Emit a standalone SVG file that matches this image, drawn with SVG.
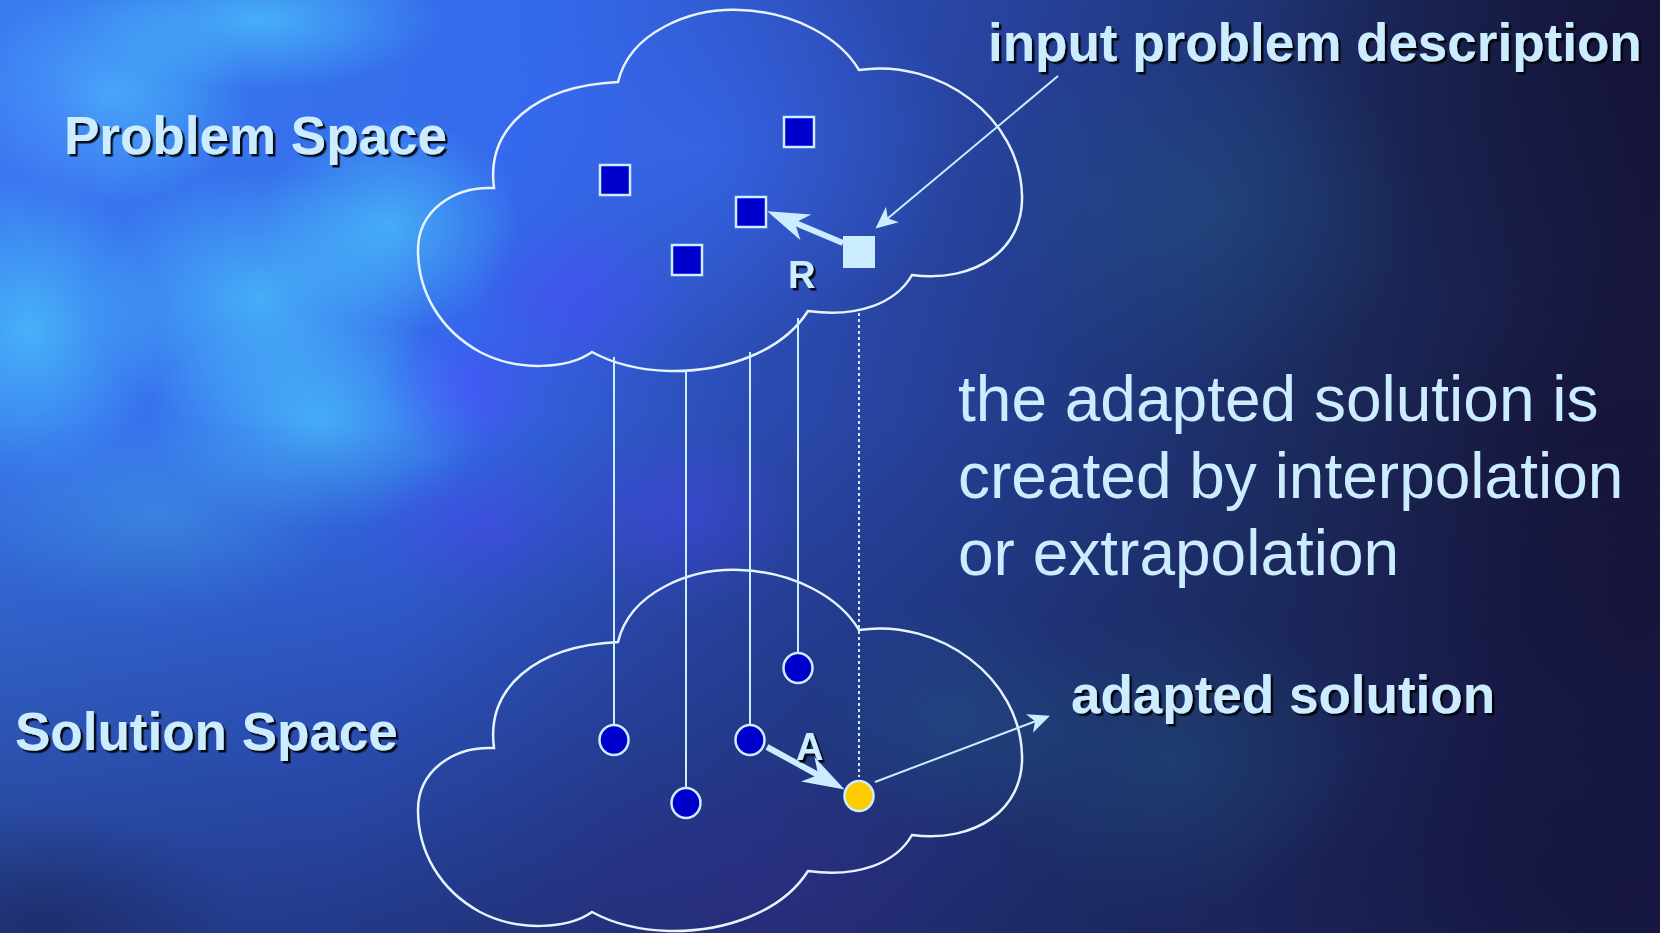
<svg xmlns="http://www.w3.org/2000/svg" width="1660" height="933" viewBox="0 0 1660 933">
<defs>
<style>
.title{font-family:"Liberation Sans",Arial,sans-serif;font-weight:bold;font-size:53px;fill:#CCECFF;filter:url(#shadow)}
.lbl{font-family:"Liberation Sans",Arial,sans-serif;font-weight:bold;font-size:38px;fill:#CCECFF;filter:url(#shadow)}
.body{font-family:"Liberation Sans",Arial,sans-serif;font-size:64px;fill:#CCECFF}
.cloud{fill:none;stroke:#E6F4FF;stroke-width:2.5}
.sq{fill:#0000CC;stroke:#CCECFF;stroke-width:2.5}
.dot{fill:#0000CC;stroke:#CCECFF;stroke-width:2.5}
.vline{stroke:#CCECFF;stroke-width:2;fill:none}
.thin{stroke:#CCECFF;stroke-width:2;fill:none}
.thick{stroke:#CCECFF;stroke-width:6;fill:none}
</style>
<filter id="shadow" x="-5%" y="-20%" width="110%" height="140%">
<feDropShadow dx="2.5" dy="2.5" stdDeviation="0.4" flood-color="#000" flood-opacity="0.9"/>
</filter>
<marker id="headThick" viewBox="0 -15 44 30" refX="14" refY="0" markerUnits="userSpaceOnUse" markerWidth="44" markerHeight="30" orient="auto">
<path d="M42,0 L0,-14 L12,0 L0,14 Z" fill="#CCECFF"/>
</marker>
<marker id="headThin" viewBox="0 -11 24 22" refX="7" refY="0" markerUnits="userSpaceOnUse" markerWidth="24" markerHeight="22" orient="auto">
<path d="M22,0 L0,-10 L6,0 L0,10 Z" fill="#CCECFF"/>
</marker>
<linearGradient id="bg" x1="0" y1="0" x2="1" y2="0.15">
<stop offset="0" stop-color="#3a7cf0"/>
<stop offset="0.33" stop-color="#3468ea"/>
<stop offset="0.5" stop-color="#2c4cb4"/>
<stop offset="0.66" stop-color="#233c8c"/>
<stop offset="0.85" stop-color="#1b2858"/>
<stop offset="1" stop-color="#171840"/>
</linearGradient>
<linearGradient id="bottomShade" x1="0" y1="0" x2="0" y2="1">
<stop offset="0.45" stop-color="#1c2a68" stop-opacity="0"/>
<stop offset="1" stop-color="#1c2660" stop-opacity="0.7"/>
</linearGradient>
<radialGradient id="cyan"><stop offset="0" stop-color="#50d6ff" stop-opacity="0.6"/><stop offset="1" stop-color="#50d6ff" stop-opacity="0"/></radialGradient>
<radialGradient id="violet"><stop offset="0" stop-color="#5048ff" stop-opacity="0.5"/><stop offset="1" stop-color="#5048ff" stop-opacity="0"/></radialGradient>
<radialGradient id="blue"><stop offset="0" stop-color="#3a70ff" stop-opacity="0.5"/><stop offset="1" stop-color="#3a70ff" stop-opacity="0"/></radialGradient>
<radialGradient id="dark"><stop offset="0" stop-color="#120e30" stop-opacity="0.55"/><stop offset="1" stop-color="#120e30" stop-opacity="0"/></radialGradient>
<radialGradient id="teal"><stop offset="0" stop-color="#24608a" stop-opacity="0.35"/><stop offset="1" stop-color="#24608a" stop-opacity="0"/></radialGradient>
<radialGradient id="purple"><stop offset="0" stop-color="#3a2a90" stop-opacity="0.35"/><stop offset="1" stop-color="#3a2a90" stop-opacity="0"/></radialGradient>
</defs>

<g id="background">
<rect x="0" y="0" width="1660" height="933" fill="url(#bg)"/>
<ellipse cx="700" cy="150" rx="260" ry="200" fill="url(#blue)"/>
<ellipse cx="110" cy="95" rx="140" ry="110" fill="url(#cyan)"/>
<ellipse cx="260" cy="20" rx="180" ry="70" fill="url(#cyan)"/>
<ellipse cx="30" cy="330" rx="130" ry="150" fill="url(#cyan)"/>
<ellipse cx="260" cy="300" rx="170" ry="130" fill="url(#cyan)"/>
<ellipse cx="390" cy="225" rx="130" ry="110" fill="url(#cyan)"/>
<ellipse cx="320" cy="420" rx="170" ry="110" fill="url(#cyan)"/>
<ellipse cx="160" cy="520" rx="180" ry="100" fill="url(#cyan)" opacity="0.5"/>
<ellipse cx="575" cy="300" rx="110" ry="90" fill="url(#violet)"/>
<ellipse cx="470" cy="390" rx="90" ry="70" fill="url(#violet)"/>
<ellipse cx="480" cy="530" rx="120" ry="80" fill="url(#violet)"/>
<ellipse cx="680" cy="520" rx="120" ry="90" fill="url(#violet)"/>
<ellipse cx="60" cy="120" rx="120" ry="120" fill="url(#violet)" opacity="0.4"/>
<rect x="0" y="0" width="1660" height="933" fill="url(#bottomShade)"/>
<ellipse cx="1640" cy="40" rx="380" ry="300" fill="url(#dark)"/>
<ellipse cx="1640" cy="620" rx="300" ry="380" fill="url(#dark)"/>
<ellipse cx="1620" cy="900" rx="400" ry="200" fill="url(#dark)"/>
<ellipse cx="1200" cy="210" rx="220" ry="180" fill="url(#teal)"/>
<ellipse cx="1170" cy="760" rx="200" ry="150" fill="url(#teal)"/>
<ellipse cx="960" cy="720" rx="150" ry="120" fill="url(#teal)"/>
<ellipse cx="40" cy="920" rx="200" ry="110" fill="url(#dark)" opacity="0.6"/>
<ellipse cx="760" cy="880" rx="300" ry="140" fill="url(#purple)"/>
</g>

<g id="problem-cloud">
<path class="cloud" d="M618,82 C630,32 690,8 740,10 C795,12 840,38 859,70 C940,58 1020,118 1022,195 C1024,250 975,283 912,275 C896,303 858,318 808,311 C782,352 725,372 669,371 C638,370 612,363 592,352 C568,369 518,372 480,352 C440,330 418,292 418,250 C418,212 452,186 494,188 C486,128 535,86 618,82 Z"/>
</g>
<g id="solution-cloud">
<path class="cloud" transform="translate(0,560)" d="M618,82 C630,32 690,8 740,10 C795,12 840,38 859,70 C940,58 1020,118 1022,195 C1024,250 975,283 912,275 C896,303 858,318 808,311 C782,352 725,372 669,371 C638,370 612,363 592,352 C568,369 518,372 480,352 C440,330 418,292 418,250 C418,212 452,186 494,188 C486,128 535,86 618,82 Z"/>
</g>

<g id="connectors">
<line class="vline" x1="614" y1="357" x2="614" y2="726"/>
<line class="vline" x1="686" y1="370" x2="686" y2="788"/>
<line class="vline" x1="750" y1="352" x2="750" y2="725"/>
<line class="vline" x1="798" y1="318" x2="798" y2="653"/>
<line class="vline" x1="859" y1="313" x2="859" y2="777" stroke-width="2.5" stroke-dasharray="3 3"/>
<line class="thick" x1="843" y1="243" x2="793" y2="222" marker-end="url(#headThick)"/>
<line class="thick" x1="767" y1="747" x2="820" y2="776" marker-end="url(#headThick)"/>
<line class="thin" x1="1058" y1="76" x2="887" y2="219" marker-end="url(#headThin)"/>
<line class="thin" x1="875" y1="782" x2="1036" y2="721" marker-end="url(#headThin)"/>
</g>

<g id="case-p1"><rect class="sq" x="784" y="117" width="30" height="30"/></g>
<g id="case-p2"><rect class="sq" x="600" y="165" width="30" height="30"/></g>
<g id="case-p3"><rect class="sq" x="736" y="197" width="30" height="30"/></g>
<g id="case-p4"><rect class="sq" x="672" y="245" width="30" height="30"/></g>
<g id="input-problem"><rect x="843" y="236" width="32" height="32" fill="#CCECFF"/></g>

<g id="case-s1"><ellipse class="dot" cx="614" cy="740" rx="14.5" ry="15"/></g>
<g id="case-s2"><ellipse class="dot" cx="686" cy="803" rx="14.5" ry="15"/></g>
<g id="case-s3"><ellipse class="dot" cx="750" cy="740" rx="14.5" ry="15"/></g>
<g id="case-s4"><ellipse class="dot" cx="798" cy="668" rx="14.5" ry="15"/></g>
<g id="adapted"><ellipse cx="859" cy="796" rx="14.5" ry="15" fill="#FFCC00" stroke="#CCECFF" stroke-width="2.5"/></g>

<g id="labels">
<text class="title" x="64" y="154">Problem Space</text>
<text class="title" x="15" y="750">Solution Space</text>
<text class="title" x="988" y="61">input problem description</text>
<text class="title" x="1071" y="713">adapted solution</text>
<text class="lbl" x="788" y="288">R</text>
<text class="lbl" x="796" y="760">A</text>
<text class="body" x="958" y="421">the adapted solution is</text>
<text class="body" x="958" y="498">created by interpolation</text>
<text class="body" x="958" y="575">or extrapolation</text>
</g>
</svg>
